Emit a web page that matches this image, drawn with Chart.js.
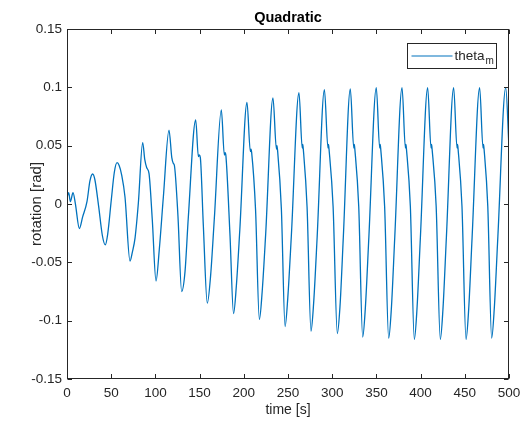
<!DOCTYPE html>
<html>
<head>
<meta charset="utf-8">
<script src="https://cdn.jsdelivr.net/npm/chart.js@4.4.1/dist/chart.umd.min.js"></script>
<style>
html,body{margin:0;padding:0;background:#fff;}
#wrap{width:523px;height:426px;position:relative;}
</style>
</head>
<body>
<div id="wrap"><canvas id="c" width="523" height="426"></canvas></div>
<script>
const chartTitle = "Quadratic";
const xAxisTitle = "time [s]";
const yAxisTitle = "rotation [rad]";
const seriesName = "theta";
const seriesSub = "m";
const xTicks = [0,50,100,150,200,250,300,350,400,450,500];
const xTickLabels = ["0","50","100","150","200","250","300","350","400","450","500"];
const yTicks = [-0.15,-0.1,-0.05,0,0.05,0.1,0.15];
const yTickLabels = ["-0.15","-0.1","-0.05","0","0.05","0.1","0.15"];

const timeS = [0,1.9,3.8,6.8,9.4,14,17.7,22.6,26,29,31.5,35.8,40,43.3,46,50.1,53.5,56.6,59,61.8,65.6,71.3,74,77,80.7,85.6,88,90.2,92.8,96.5,100.7,104.4,109,115.4,118.5,120.2,121.5,125.5,129.7,133.5,137.2,145.6,148.6,149.6,150.8,154.2,158.7,162.5,166.7,174.6,178,178.8,179.8,184.4,188.4,191.6,195.5,203.6,207.4,208.1,208.9,213.3,217.6,220.8,224.8,233,236.9,237.5,238.2,242.5,246.7,249.8,253.8,262.4,266.1,266.7,267.3,271.6,276,279,283,291.2,295.2,295.8,296.4,301,305.8,308.8,312.6,320.5,324.4,325,325.6,330,334.5,337.5,341.5,349.9,353.7,354.3,354.9,359.3,363.9,366.9,370.8,379,382.8,383.4,384,388.4,392.9,395.9,399.8,408,411.8,412.4,413,417.6,422.3,425.3,429.2,437.4,441.2,441.8,442.4,446.8,451.4,454.4,458.3,466.8,470.6,471.2,471.8,476,480.4,483.4,487.4,496.3,500];

const thetaM = [0.006,0.0097,0.002,0.0097,0.0006,-0.021,-0.011,0.002,0.02,0.0257,0.021,-0.002,-0.027,-0.035,-0.026,0.0034,0.027,0.0354,0.033,0.025,0.006,-0.049,-0.041,-0.029,0.0006,0.0526,0.038,0.031,0.026,-0.0137,-0.066,-0.039,0.006,0.0634,0.040,0.035,0.033,-0.01,-0.075,-0.058,-0.012,0.072,0.0406,0.042,0.040,-0.018,-0.085,-0.061,-0.012,0.0806,0.042,0.044,0.041,-0.027,-0.094,-0.070,-0.022,0.087,0.045,0.047,0.044,-0.005,-0.099,-0.075,-0.025,0.091,0.047,0.050,0.046,-0.004,-0.105,-0.080,-0.027,0.0954,0.048,0.051,0.047,-0.003,-0.109,-0.085,-0.028,0.098,0.048,0.051,0.047,-0.002,-0.111,-0.088,-0.028,0.0986,0.048,0.051,0.047,-0.002,-0.114,-0.089,-0.028,0.0997,0.048,0.051,0.047,-0.002,-0.115,-0.090,-0.028,0.0997,0.048,0.051,0.047,-0.002,-0.116,-0.090,-0.028,0.0997,0.048,0.051,0.047,-0.002,-0.116,-0.090,-0.028,0.0997,0.048,0.051,0.047,-0.002,-0.116,-0.090,-0.028,0.0997,0.048,0.051,0.047,-0.002,-0.115,-0.089,-0.028,0.0997,0.048];

const FONT = '"Liberation Sans", Arial, Helvetica, sans-serif';
const TXT = '#262626';
const LINE = '#0072BD';

const points = timeS.map((t,i)=>({x:t, y:thetaM[i]}));

const decor = {
  id:'decor',
  afterDraw(chart){
    const {ctx, chartArea:a, scales:{x,y}} = chart;
    ctx.save();
    const L = Math.round(a.left)+0.5, R = Math.round(a.right)-0.5;
    const T = Math.round(a.top)+0.5, B = Math.round(a.bottom)-0.5;
    ctx.strokeStyle = TXT; ctx.lineWidth = 1;
    ctx.strokeRect(L, T, R-L, B-T);
    const tl = 4.5;
    ctx.beginPath();
    xTicks.forEach(v=>{
      const px = Math.round(x.getPixelForValue(v))+0.5;
      ctx.moveTo(px,B); ctx.lineTo(px,B-tl);
      ctx.moveTo(px,T); ctx.lineTo(px,T+tl);
    });
    yTicks.forEach(v=>{
      const py = Math.round(y.getPixelForValue(v))+0.5;
      ctx.moveTo(L,py); ctx.lineTo(L+tl,py);
      ctx.moveTo(R,py); ctx.lineTo(R-tl,py);
    });
    ctx.stroke();
    // title
    ctx.fillStyle = '#000';
    ctx.font = 'bold 14.5px ' + FONT;
    ctx.textAlign = 'center'; ctx.textBaseline = 'middle';
    ctx.fillText(chartTitle, (a.left+a.right)/2, 18);
    // legend
    const bx = R - 101, by = T + 14, bw = 89, bh = 25;
    ctx.fillStyle = '#fff';
    ctx.fillRect(bx, by, bw, bh);
    ctx.strokeStyle = TXT;
    ctx.strokeRect(bx, by, bw, bh);
    ctx.strokeStyle = LINE; ctx.lineWidth = 1.2;
    ctx.beginPath(); ctx.moveTo(bx+4, by+12.5); ctx.lineTo(bx+45, by+12.5); ctx.stroke();
    ctx.fillStyle = TXT;
    ctx.textAlign = 'left'; ctx.textBaseline = 'alphabetic';
    ctx.font = '13.5px ' + FONT;
    ctx.fillText(seriesName, bx+47, by+16);
    const w = ctx.measureText(seriesName).width;
    ctx.font = '10px ' + FONT;
    ctx.fillText(seriesSub, bx+47+w+1, by+20);
    ctx.restore();
  }
};

new Chart(document.getElementById('c'), {
  type:'line',
  data:{ datasets:[{ label: seriesName + seriesSub, data: points, borderColor: LINE, borderWidth: 1.3,
    pointRadius:0, fill:false, cubicInterpolationMode:'monotone' }] },
  options:{
    responsive:false, animation:false, maintainAspectRatio:false,
    layout:{ padding:{ left:0, top:29, right:14, bottom:0 } },
    plugins:{ legend:{display:false}, title:{display:false}, tooltip:{enabled:false} },
    scales:{
      x:{ type:'linear', min:0, max:500,
        afterBuildTicks: s => { s.ticks = xTicks.map(v=>({value:v})); },
        afterFit: s => { s.height = 47; s.paddingRight = 0; s.paddingLeft = 0; },
        grid:{ display:false, drawTicks:false }, border:{ display:false },
        ticks:{ color:TXT, font:{ family:FONT, size:13.5 }, padding:6, maxRotation:0,
          callback:(v,i)=> xTickLabels[i] },
        title:{ display:true, text:xAxisTitle, color:TXT, font:{ family:FONT, size:14 }, padding:{top:0,bottom:7} }
      },
      y:{ type:'linear', min:-0.15, max:0.15,
        afterBuildTicks: s => { s.ticks = yTicks.map(v=>({value:v})); },
        afterFit: s => { s.width = 67; s.paddingTop = 0; s.paddingBottom = 0; },
        grid:{ display:false, drawTicks:false }, border:{ display:false },
        ticks:{ color:TXT, font:{ family:FONT, size:13.5 }, padding:5,
          callback:(v,i)=> yTickLabels[i] },
        title:{ display:true, text:yAxisTitle, color:TXT, font:{ family:FONT, size:15 }, padding:{top:28,bottom:0} }
      }
    }
  },
  plugins:[decor]
});
</script>
</body>
</html>
